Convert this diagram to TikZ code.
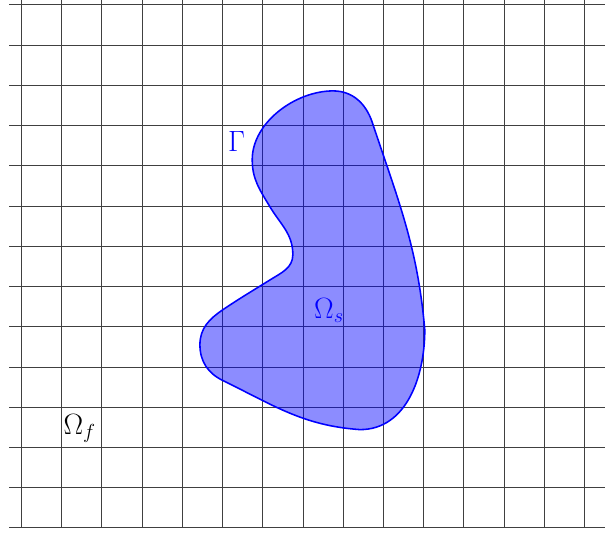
\documentclass[tikz,border=0pt]{standalone}
\usepackage{amsmath}
\usepackage{tikz}

\begin{document}
\begin{tikzpicture}[scale=1]

    % Styles
    \tikzset{
      solid body/.style={draw=blue, line width=1.1pt, fill=blue, fill opacity=0.45},
      domain label/.style={font=\huge}
    }

    % Window (picture margins)
    \useasboundingbox (-0.53,-0.124) rectangle (14.51,13.12);
    \clip (-0.53,-0.124) rectangle (14.51,13.12);

    % Background fluid grid
    \draw[step=1, line width=0.5pt, black!75] (-0.3,0) grid (15,13.5);

    % Boundary points of the solid
    \coordinate (top)    at (7.75,10.86);
    \coordinate (bend)   at (8.72,10.09);
    \coordinate (right)  at (10.03,4.92);
    \coordinate (bottom) at (8.42,2.44);
    \coordinate (lowl)   at (5.01,3.66);
    \coordinate (left)   at (4.44,4.55);
    \coordinate (upl)    at (5.01,5.42);
    \coordinate (arm)    at (6.18,6.16);
    \coordinate (neck)   at (6.75,6.79);
    \coordinate (waist)  at (6.18,7.98);
    \coordinate (lobe)   at (5.74,9.15);

    % Solid body
    \filldraw[solid body]
      (top) to[out=0, in=109] (bend)
      to[out=-71.6, in=95] (right)
      to[out=-90, in=0] (bottom)
      to[out=176, in=-26] (lowl)
      to[out=154, in=-90] (left)
      to[out=90, in=-146] (upl)
      to[out=34, in=-148] (arm)
      to[out=32, in=-90] (neck)
      to[out=90, in=-59] (waist)
      to[out=121, in=-90] (lobe)
      to[out=90, in=180, looseness=0.9] cycle;

    % Labels
    \node[domain label, blue] (gamma) at (5.35,9.61) {$\Gamma$};
    \node[domain label, blue] (omegas) at (7.65,5.40) {$\Omega_s$};
    \node[domain label] (omegaf) at (1.45,2.47) {$\Omega_f$};

\end{tikzpicture}
\end{document}
